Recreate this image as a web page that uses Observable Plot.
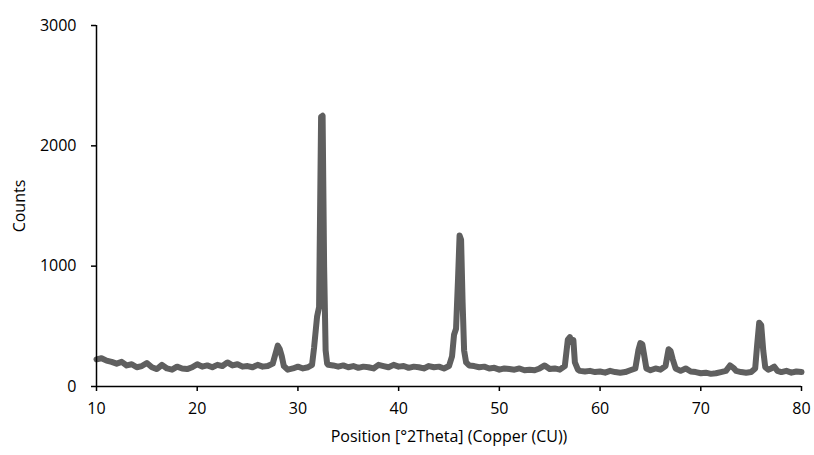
<!DOCTYPE html>
<html>
<head>
<meta charset="utf-8">
<script src="https://cdn.jsdelivr.net/npm/d3@7"></script>
<script src="https://cdn.jsdelivr.net/npm/@observablehq/plot@0.6"></script>
<style>
  html, body { margin: 0; padding: 0; background: #fff; }
  #chart svg { display: block; }
</style>
</head>
<body>
<div id="chart"></div>
<script>
// Scan positions (°2Theta)
const theta = [
  10.0, 10.5, 11.0, 11.5, 12.0, 12.5, 13.0, 13.5, 14.0, 14.5,
  15.0, 15.5, 16.0, 16.5, 17.0, 17.5, 18.0, 18.5, 19.0, 19.5,
  20.0, 20.5, 21.0, 21.5, 22.0, 22.5, 23.0, 23.5, 24.0, 24.5,
  25.0, 25.5, 26.0, 26.5, 27.0, 27.5, 27.8, 28.0, 28.2, 28.4,
  28.6, 29.0, 29.5, 30.0, 30.5, 31.0, 31.4, 31.6, 31.9, 32.1,
  32.3, 32.45, 32.6, 32.75, 32.9, 33.0, 33.5, 34.0, 34.5, 35.0,
  35.5, 36.0, 36.5, 37.0, 37.5, 38.0, 38.5, 39.0, 39.5, 40.0,
  40.5, 41.0, 41.5, 42.0, 42.5, 43.0, 43.5, 44.0, 44.5, 45.0,
  45.3, 45.5, 45.7, 45.9, 46.05, 46.2, 46.35, 46.5, 46.7, 47.0,
  47.5, 48.0, 48.5, 49.0, 49.5, 50.0, 50.5, 51.0, 51.5, 52.0,
  52.5, 53.0, 53.5, 54.0, 54.5, 55.0, 55.5, 56.0, 56.5, 56.8,
  57.0, 57.2, 57.35, 57.5, 57.8, 58.0, 58.5, 59.0, 59.5, 60.0,
  60.5, 61.0, 61.5, 62.0, 62.5, 63.0, 63.5, 63.8, 64.0, 64.2,
  64.4, 64.6, 65.0, 65.5, 66.0, 66.5, 66.8, 67.0, 67.2, 67.5,
  68.0, 68.5, 69.0, 69.5, 70.0, 70.5, 71.0, 71.5, 72.0, 72.5,
  72.9, 73.3, 73.5, 74.0, 74.5, 75.0, 75.4, 75.6, 75.8, 76.0,
  76.2, 76.4, 76.7, 77.0, 77.3, 77.6, 78.0, 78.5, 79.0, 79.5,
  80.0
];
// Measured counts
const counts = [
  225, 235, 215, 205, 190, 205, 175, 185, 160, 170,
  195, 160, 145, 180, 150, 140, 165, 150, 145, 160,
  185, 165, 175, 160, 180, 170, 200, 175, 185, 165,
  170, 160, 180, 165, 170, 190, 280, 340, 310, 250,
  170, 140, 150, 165, 150, 160, 180, 320, 580, 660,
  2240, 2250, 1000, 300, 190, 180, 175, 165, 175, 160,
  170, 155, 165, 160, 150, 180, 170, 160, 180, 165,
  170, 155, 165, 160, 150, 170, 160, 165, 150, 170,
  250, 430, 480, 900, 1255, 1220, 700, 300, 200, 175,
  170, 160, 165, 150, 155, 140, 150, 145, 140, 150,
  135, 140, 135, 150, 175, 145, 150, 140, 170, 390,
  410, 370, 385, 200, 140, 130, 125, 130, 120, 125,
  115, 130, 120, 115, 120, 135, 150, 300, 360, 350,
  250, 150, 135, 150, 140, 170, 310, 295, 230, 150,
  130, 150, 125, 120, 110, 115, 105, 110, 120, 130,
  175, 150, 130, 120, 115, 120, 150, 350, 530, 510,
  300, 160, 140, 150, 165, 130, 120, 130, 115, 125,
  120
];
const xTicks = [10, 20, 30, 40, 50, 60, 70, 80];
const yTicks = [0, 1000, 2000, 3000];
const xLabel = "Position [°2Theta] (Copper (CU))";
const yLabel = "Counts";

const data = theta.map((t, i) => ({theta: t, counts: counts[i]}));

const chart = Plot.plot({
  width: 814,
  height: 455,
  marginLeft: 96,
  marginRight: 13,
  marginTop: 25,
  marginBottom: 69,
  style: {fontFamily: "'Open Sans', sans-serif", fontSize: "16px", color: "#000", background: "#fff"},
  x: {domain: [10, 80]},
  y: {domain: [0, 3000]},
  marks: [
    Plot.line(data, {x: "theta", y: "counts", stroke: "#5f5f5f", strokeWidth: 6, strokeLinejoin: "round", strokeLinecap: "round", curve: "linear"}),
    Plot.ruleY([0], {stroke: "#000", strokeWidth: 1.5}),
    Plot.ruleX([10], {stroke: "#000", strokeWidth: 1.5}),
    Plot.axisX({ticks: xTicks, tickSize: 5, tickPadding: 11, tickFormat: d => String(d), stroke: "#000", strokeWidth: 1.5,
      label: xLabel, labelAnchor: "center", labelArrow: "none", labelOffset: 55, fill: "#000"}),
    Plot.axisY({ticks: yTicks, tickSize: 5, tickPadding: 15, tickFormat: d => String(d), stroke: "#000", strokeWidth: 1.5,
      label: yLabel, labelAnchor: "center", labelArrow: "none", labelOffset: 83, fill: "#000"})
  ]
});
document.getElementById("chart").appendChild(chart);
</script>
</body>
</html>
